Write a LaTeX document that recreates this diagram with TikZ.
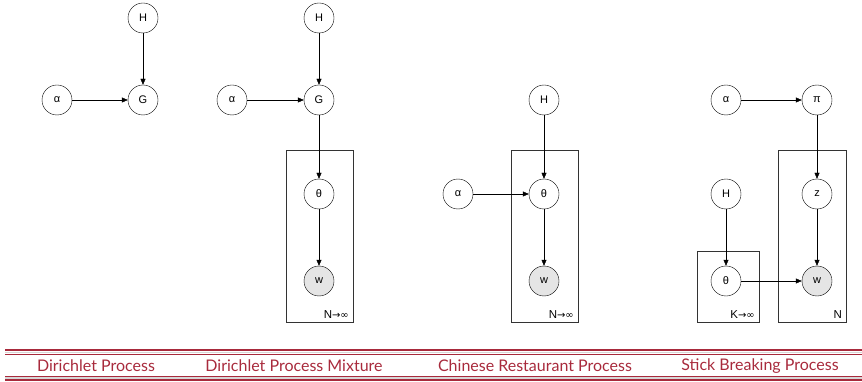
\documentclass[tikz,border=0pt]{standalone}
\usepackage{fontspec}
\setmainfont{Lato}
\newfontfamily\nodefont{Liberation Sans}
\newfontfamily\symfont{DejaVu Sans}
\usetikzlibrary{arrows.meta,positioning}

\tikzset{
  var/.style={circle, draw, thin, minimum size=30pt, inner sep=0pt, font=\nodefont\fontsize{11}{11}\selectfont},
  obs/.style={var, fill=gray!20},
  edge/.style={-{Triangle[length=6pt,width=5pt]}, thin},
  plate/.style={draw, thin, black!80},
  platelabel/.style={anchor=south east, inner xsep=4pt, inner ysep=3pt, font=\nodefont\fontsize{11.5}{12}\selectfont},
  title/.style={font=\fontsize{16}{16}\selectfont, text=barred}
}
\newcommand{\toinf}{{\symfont\fontsize{10}{10}\selectfont →∞}}

\begin{document}
\begin{tikzpicture}[x=1pt, y=-1pt]
    % Colors
    \definecolor{barred}{RGB}{168, 42, 60}
    \definecolor{barlight}{RGB}{215, 215, 215}

    \useasboundingbox (0,0) rectangle (862,382);

    % Dirichlet Process
    \node[var] (dpH) at (143,18) {H};
    \node[var] (dpa) at (57,100) {α};
    \node[var] (dpG) at (143,100) {G};
    \draw[edge] (dpH) -- (dpG);
    \draw[edge] (dpa) -- (dpG);

    % Dirichlet Process Mixture
    \draw[plate] (286,150) rectangle (353,322);
    \node[var] (dpmH) at (319,18) {H};
    \node[var] (dpma) at (232,100) {α};
    \node[var] (dpmG) at (319,100) {G};
    \node[var] (dpmt) at (319,194) {θ};
    \node[obs] (dpmw) at (319,281) {w};
    \node[platelabel] (dpmN) at (353,322) {N\toinf};
    \draw[edge] (dpmH) -- (dpmG);
    \draw[edge] (dpma) -- (dpmG);
    \draw[edge] (dpmG) -- (dpmt);
    \draw[edge] (dpmt) -- (dpmw);

    % Chinese Restaurant Process
    \draw[plate] (511,150) rectangle (578,322);
    \node[var] (crpH) at (544,100) {H};
    \node[var] (crpa) at (458,194) {α};
    \node[var] (crpt) at (544,194) {θ};
    \node[obs] (crpw) at (544,281) {w};
    \node[platelabel] (crpN) at (578,322) {N\toinf};
    \draw[edge] (crpH) -- (crpt);
    \draw[edge] (crpa) -- (crpt);
    \draw[edge] (crpt) -- (crpw);

    % Stick Breaking Process
    \draw[plate] (697,251) rectangle (759,322);
    \draw[plate] (778,150) rectangle (846,322);
    \node[var] (sba) at (726,100) {α};
    \node[var] (sbp) at (817,100) {π};
    \node[var] (sbH) at (726,194) {H};
    \node[var] (sbz) at (817,194) {z};
    \node[var] (sbt) at (726,281) {θ};
    \node[obs] (sbw) at (817,281) {w};
    \node[platelabel] (sbK) at (759,322) {K\toinf};
    \node[platelabel] (sbN) at (846,322) {N};
    \draw[edge] (sba) -- (sbp);
    \draw[edge] (sbp) -- (sbz);
    \draw[edge] (sbH) -- (sbt);
    \draw[edge] (sbz) -- (sbw);
    \draw[edge] (sbt) -- (sbw);

    % Title bar
    \draw[barred, line width=2pt] (5,350) -- (862,350);
    \draw[barlight, line width=1.5pt] (5,352.5) -- (862,352.5);
    \draw[barred, line width=1pt] (5,354.5) -- (862,354.5);
    \draw[barred, line width=1pt] (5,376) -- (862,376);
    \draw[barlight, line width=1.5pt] (5,378) -- (862,378);
    \draw[barred, line width=1.5pt] (5,380) -- (862,380);
    \node[title] (tdp) at (96,366) {Dirichlet Process};
    \node[title] (tdpm) at (294,366) {Dirichlet Process Mixture};
    \node[title] (tcrp) at (535,366) {Chinese Restaurant Process};
    \node[title] (tsbp) at (760,366) {Stick Breaking Process};
\end{tikzpicture}
\end{document}
